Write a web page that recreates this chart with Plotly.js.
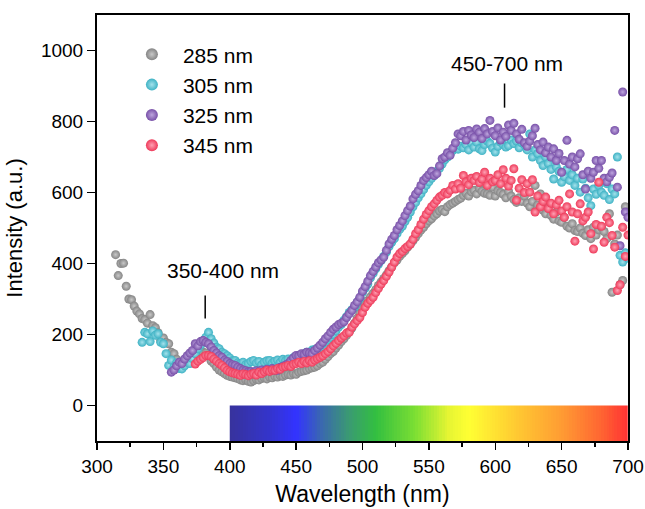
<!DOCTYPE html>
<html>
<head>
<meta charset="utf-8">
<script src="https://cdn.plot.ly/plotly-3.0.1.min.js"></script>
<style>
  html, body { margin: 0; padding: 0; background: #ffffff; }
  #chart { width: 645px; height: 509px; }
</style>
</head>
<body>
<div id="chart"></div>
<script>
// ---- Data ----
const seriesNames = ['285 nm', '305 nm', '325 nm', '345 nm'];
const wavelengthStep = 2;

const start285 = 314;
const intensity285 = [
  425, 366, 400, 401, 336, 300, 298, 280, 266, 258,
  245, 242, 232, 256, 225, 219, 205, 183, 190, 178,
  174, 150, 146, 130, 115, 120, 118, 128, 135, 140,
  150, 152, 155, 150, 148, 140, 125, 118, 108, 100,
  95, 90, 85, 82, 80, 78, 76, 72, 70, 72,
  68, 66, 70, 74, 72, 76, 78, 75, 80, 78,
  82, 80, 84, 82, 86, 88, 86, 90, 88, 94,
  96, 98, 100, 104, 106, 108, 112, 118, 122, 130,
  138, 146, 152, 162, 170, 180, 188, 198, 208, 218,
  232, 246, 260, 272, 284, 296, 306, 316, 326, 338,
  348, 358, 368, 380, 390, 402, 410, 420, 428, 436,
  446, 454, 464, 474, 484, 494, 502, 512, 520, 526,
  534, 540, 548, 552, 546, 560, 566, 570, 575, 580,
  584, 592, 598, 590, 602, 606, 596, 612, 604, 598,
  596, 592, 615, 590, 605, 600, 595, 585, 604, 590,
  580, 572, 585, 575, 590, 570, 560, 575, 620, 565,
  596, 550, 540, 560, 535, 525, 545, 520, 516, 530,
  505, 500, 512, 493, 490, 500, 485, 479, 495, 470,
  502, 480, 495, 502, 490, 470, 540, 319, 455, 480,
  340, 352, 560, 545
];

const start305 = 334;
const intensity305 = [
  178, 206, 202, 180, 210, 198, 202, 178, 174, 146,
  113, 128, 108, 120, 104, 103, 112, 122, 118, 132,
  146, 160, 170, 183, 192, 206, 188, 176, 164, 160,
  150, 146, 140, 134, 126, 127, 120, 118, 122, 115,
  118, 124, 127, 120, 124, 115, 122, 126, 127, 120,
  125, 128, 122, 130, 126, 131, 128, 135, 132, 140,
  138, 146, 150, 148, 156, 158, 160, 164, 172, 178,
  185, 192, 200, 210, 221, 228, 240, 250, 262, 270,
  277, 290, 302, 318, 330, 342, 360, 372, 385, 398,
  408, 420, 432, 448, 460, 470, 484, 496, 505, 518,
  530, 545, 560, 572, 585, 596, 608, 620, 630, 640,
  648, 660, 668, 680, 692, 700, 712, 718, 725, 722,
  730, 726, 735, 720, 740, 728, 742, 723, 718, 735,
  745, 738, 725, 714, 730, 742, 735, 728, 732, 748,
  738, 745, 726, 740, 735, 720, 765, 700, 720, 710,
  690, 676, 700, 682, 665, 638, 672, 660, 629, 645,
  665, 634, 650, 620, 640, 601, 638, 612, 585, 563,
  610, 595, 620, 601, 592, 625, 580, 610, 596, 700,
  423, 404, 430, 415
];

const start325 = 356;
const intensity325 = [
  94, 100, 112, 122, 118, 131, 140, 148, 155, 174,
  168, 180, 183, 178, 174, 165, 155, 148, 140, 136,
  128, 124, 118, 115, 113, 108, 104, 100, 98, 95,
  96, 94, 98, 95, 100, 96, 102, 98, 104, 100,
  99, 108, 110, 114, 118, 126, 134, 141, 140, 146,
  144, 150, 148, 146, 155, 162, 170, 178, 188, 196,
  206, 215, 221, 228, 232, 236, 248, 258, 268, 282,
  292, 305, 322, 335, 350, 366, 378, 390, 402, 410,
  418, 437, 455, 468, 479, 495, 507, 520, 535, 549,
  562, 582, 595, 605, 620, 634, 642, 650, 660, 648,
  653, 675, 695, 700, 712, 705, 725, 740, 765, 760,
  772, 748, 775, 762, 755, 779, 770, 752, 780, 765,
  803, 772, 760, 782, 748, 770, 758, 790, 775, 795,
  765, 750, 778, 740, 730, 745, 760, 781, 735, 720,
  742, 712, 728, 700, 723, 690, 710, 657, 690, 747,
  680, 700, 672, 695, 709, 650, 610, 660, 640, 657,
  690, 668, 690, 640, 630, 643, 655, 775, 615, 450,
  883, 545, 530
];

const start345 = 374;
const intensity345 = [
  117, 125, 130, 135, 141, 141, 138, 131, 125, 118,
  113, 106, 99, 95, 92, 90, 88, 85, 89, 87,
  84, 88, 90, 86, 94, 90, 95, 99, 96, 100,
  99, 104, 102, 108, 110, 113, 110, 116, 118, 122,
  118, 124, 120, 126, 122, 128, 132, 136, 140, 146,
  152, 160, 168, 175, 183, 190, 196, 204, 206, 221,
  230, 239, 248, 262, 277, 288, 296, 305, 318, 330,
  342, 352, 364, 376, 390, 404, 418, 428, 434, 442,
  448, 455, 468, 484, 495, 510, 525, 538, 549, 560,
  568, 578, 587, 592, 600, 596, 606, 620, 610, 625,
  612, 648, 630, 622, 640, 634, 645, 628, 638, 657,
  620, 640, 630, 634, 650, 625, 664, 640, 618, 634,
  667, 578, 612, 636, 600, 625, 601, 636, 545, 590,
  560, 575, 587, 555, 570, 540, 565, 578, 548, 530,
  560, 596, 545, 463, 540, 568, 520, 530, 545, 484,
  441, 510, 629, 505, 460, 530, 515, 479, 446, 324,
  340, 502, 420, 480
];

// Visible spectrum strip (400-700 nm) under the curves
const spectrumRange = [400, 700];
const spectrumRows = [-100, 0];

// Annotations
const bandLabels = ['350-400 nm', '450-700 nm'];

// ---- Styling ----
const FONT = 'Arial, "Liberation Sans", "DejaVu Sans", sans-serif';
const baseColors = ['#858585', '#3eb2c4', '#7850a8', '#ee3a5a'];
const glowColors = ['#c8c8c8', '#a4e2ec', '#bea6de', '#ffa2b4'];

function wavelengths(start, n) {
  const out = [];
  for (let i = 0; i < n; i++) out.push(start + i * wavelengthStep);
  return out;
}

const seriesData = [
  [start285, intensity285],
  [start305, intensity305],
  [start325, intensity325],
  [start345, intensity345]
];

// spectrum heatmap grid (colour strip only)
const stripEdges = [], stripZ = [];
for (let w = spectrumRange[0]; w <= spectrumRange[1]; w += 2) stripEdges.push(w);
for (let i = 0; i < stripEdges.length - 1; i++) stripZ.push((stripEdges[i] + stripEdges[i + 1]) / 2);

const traces = [{
  type: 'heatmap',
  x: stripEdges,
  y: spectrumRows,
  z: [stripZ],
  zmin: spectrumRange[0],
  zmax: spectrumRange[1],
  colorscale: [
    [0.000, '#37339c'],
    [0.100, '#3434cc'],
    [0.167, '#3333ff'],
    [0.233, '#3a6aac'],
    [0.300, '#3a9a72'],
    [0.367, '#33bf40'],
    [0.467, '#7ddf33'],
    [0.550, '#e6f533'],
    [0.600, '#ffff33'],
    [0.733, '#ffc432'],
    [0.833, '#ff9c33'],
    [0.933, '#ff6532'],
    [1.000, '#ff3333']
  ],
  showscale: false,
  hoverinfo: 'skip',
  showlegend: false
}];

seriesData.forEach(function (s, k) {
  traces.push({
    type: 'scatter',
    mode: 'markers',
    name: seriesNames[k],
    x: wavelengths(s[0], s[1].length),
    y: s[1],
    marker: {
      size: 9,
      color: baseColors[k],
      line: { width: 0 },
      gradient: { type: 'radial', color: glowColors[k] }
    }
  });
});

const layout = {
  width: 645,
  height: 509,
  margin: { l: 97, r: 17, t: 15, b: 68 },
  paper_bgcolor: '#ffffff',
  plot_bgcolor: '#ffffff',
  font: { family: FONT, color: '#000000', size: 19 },
  showlegend: true,
  legend: {
    x: 0.045, y: 0.955, xanchor: 'left', yanchor: 'top',
    bgcolor: 'rgba(0,0,0,0)',
    font: { family: FONT, size: 21, color: '#000000' },
    itemwidth: 52,
    itemsizing: 'constant',
    tracegroupgap: 0,
    traceorder: 'normal'
  },
  xaxis: {
    range: [300, 700],
    tick0: 300, dtick: 50,
    ticks: 'outside', ticklen: 7, tickwidth: 1.5, tickcolor: '#000',
    minor: { dtick: 25, ticks: 'outside', ticklen: 4, tickwidth: 1.5, tickcolor: '#000', showgrid: false },
    showgrid: false, zeroline: false,
    showline: true, linewidth: 2, linecolor: '#000', mirror: true,
    tickfont: { family: FONT, size: 19, color: '#000' },
    title: { text: 'Wavelength (nm)', font: { family: FONT, size: 23, color: '#000' }, standoff: 10 }
  },
  yaxis: {
    range: [-100, 1100],
    tick0: 0, dtick: 200,
    ticks: 'outside', ticklen: 8, tickwidth: 1.5, tickcolor: '#000',
    showgrid: false, zeroline: false,
    showline: true, linewidth: 2, linecolor: '#000', mirror: true,
    tickfont: { family: FONT, size: 19, color: '#000' },
    title: { text: 'Intensity (a.u.)', font: { family: FONT, size: 22, color: '#000' }, standoff: 12 }
  },
  annotations: [
    { x: 395, y: 380, xref: 'x', yref: 'y', text: bandLabels[0], showarrow: false,
      font: { family: FONT, size: 21, color: '#000' } },
    { x: 609, y: 963, xref: 'x', yref: 'y', text: bandLabels[1], showarrow: false,
      font: { family: FONT, size: 21, color: '#000' } }
  ],
  shapes: [
    { type: 'line', xref: 'x', yref: 'y', x0: 381.5, x1: 381.5, y0: 245, y1: 310,
      line: { color: '#000', width: 1.5 } },
    { type: 'line', xref: 'x', yref: 'y', x0: 607, x1: 607, y0: 839, y1: 907,
      line: { color: '#000', width: 1.5 } }
  ]
};

Plotly.newPlot('chart', traces, layout, { displayModeBar: false, staticPlot: true });
</script>
</body>
</html>
